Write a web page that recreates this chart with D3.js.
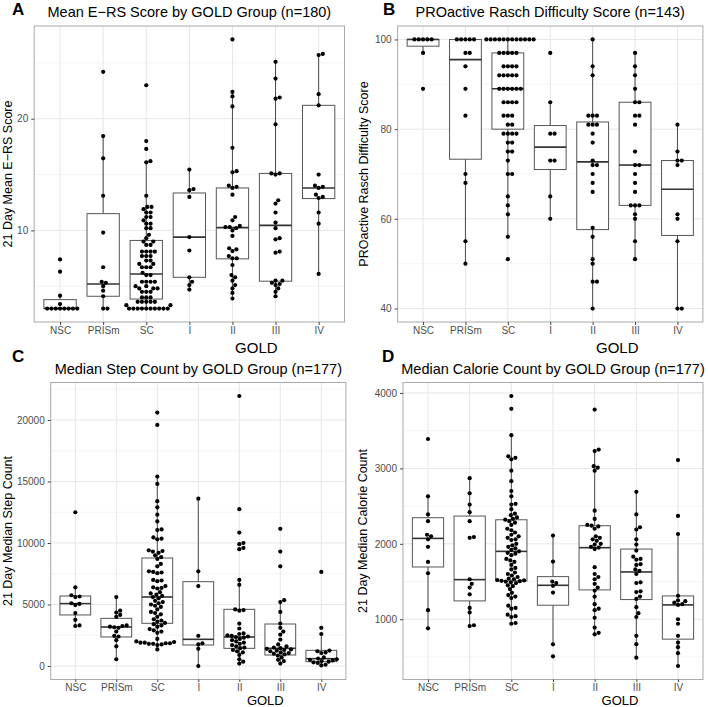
<!DOCTYPE html>
<html><head><meta charset="utf-8">
<script src="https://cdn.jsdelivr.net/npm/d3@7"></script>
<style>
body{margin:0;background:#fff;}
svg{display:block;font-family:"Liberation Sans",Arial,Helvetica,sans-serif;}
</style></head>
<body><svg id="chart" width="708" height="707"></svg>
<script>
const cats = ["NSC","PRISm","SC","I","II","III","IV"];

// Panel A: 21 Day Mean E-RS Score
const ersValues = [
  [3,3,3,3,3,3,3,3,3.4,4.15,6.3,7.4],
  [24.2,18.45,16.45,13.1,9.8,6.7,5.4,5.3,5.0,4.6,4.1,3.0,3.0],
  [23.0,18.0,17.3,16.2,16.1,13.1,12.1,12.1,11.9,11.6,11.6,11.2,11.2,10.9,10.6,10.6,10.2,10.2,9.6,9.3,
   9.0,9.0,8.7,8.7,8.1,8.1,8.1,8.1,7.7,7.7,7.7,7.3,7.3,7.0,7.0,6.7,6.7,6.7,6.2,
   6.0,6.0,5.4,5.4,5.4,5.4,5.0,5.0,4.8,4.8,4.8,4.5,4.5,4.5,4.0,4.0,4.0,
   3.6,3.6,3.6,3.6,3.6,3.3,3.3,3,3,3,3,3,3,3,3,3,3],
  [15.45,13.7,13.6,13.0,9.4,8.2,5.8,5.4,5.1,4.7],
  [27.1,22.4,22.0,21.1,17.4,15.3,15.2,14.0,13.9,13.8,13.2,11.2,10.9,10.4,10.3,10.3,10.2,10.0,9.5,8.4,8.3,8.15,7.7,7.5,7.5,6.9,6.0,5.8,5.5,5.1,4.8,4.4,3.9],
  [25.1,23.6,21.9,21.8,19.5,15.1,15.1,15.0,12.7,12.4,11.6,10.7,10.2,9.3,9.2,8.1,8.0,5.5,5.5,5.3,5.2,5.1,4.8,4.5,4.1],
  [25.8,25.7,22.2,21.2,15.0,14.0,13.9,13.8,13.2,13.0,12.9,11.6,10.6,6.1]
];
// box stats: [lower whisker, Q1, median, Q3, upper whisker]
const ersBox = [
  [3.0,3.0,3.0,3.8,4.15],[3.0,4.1,5.2,11.5,18.45],[3.0,3.85,6.1,9.1,16.2],
  [4.7,5.8,9.4,13.35,15.45],[3.9,7.45,10.25,13.8,22.4],[4.1,5.45,10.45,15.1,25.1],[6.1,12.85,13.8,21.2,25.8]
];
const ersTicks = [10,20];
const ersMinor = [5,15,25];

// Panel B: PROactive Rasch Difficulty Score
const raschValues = [
  [100,100,100,100,100,97,89],
  [100,100,100,100,100,97,97,94,89,83,70,68,55,50],
  [100,100,100,100,100,100,100,100,100,100,100,100,97,97,97,97,97,94,94,94,94,92,92,92,92,92,
   89,89,89,89,89,89,86,86,86,86,83,83,83,81,81,79,79,79,79,77,77,75,75,73,70,70,65,63,61,56,51],
  [97,86,79,79,73,73,65,60],
  [100,94,92,83,83,83,81,81,81,79,77,73,72,72,70,68,66,58,56,51,50,46,46,40],
  [97,94,92,89,86,86,83,83,81,75,72,72,70,68,66,63,63,63,61,60,55,51],
  [81,75,73,73,72,61,60,55,40,40]
];
const raschBox = [
  [97,98.5,100,100,100],[50,73.3,95.5,100,100],[56,80,89,97,100],
  [60,71,76,80.8,86],[40,57.6,72.7,81.6,100],[51,63,72,86,97],[40,56.3,66.6,73,81]
];
const raschTicks = [40,60,80,100];
const raschMinor = [50,70,90];

// Panel C: 21 Day Median Step Count
const stepValues = [
  [12500,6400,5750,5650,5600,5100,5050,4950,4300,3750,3300,3250],
  [5600,4500,4350,4150,4000,3300,3250,3200,3150,3100,2800,2450,2400,2100,1600,550],
  [20600,19600,15400,14800,13400,12900,12300,11750,11100,11050,10450,10350,10300,9400,9350,9300,9200,9000,8850,
   8700,8300,8100,7700,7650,7600,7550,7000,6950,6900,6500,6400,6350,6300,6000,5900,5800,5700,
   5600,5500,5300,5200,5100,5000,4900,4800,4600,4400,4300,4200,4000,3800,3700,3600,3500,
   3400,3300,3200,3000,2900,2800,2700,2200,2000,1950,1900,1900,1850,1850,1800,1800,1750,1700,1350],
  [13600,7700,6500,2450,1850,1750,1400,0],
  [21950,12750,10850,10000,9900,9600,9500,7000,6600,4600,4550,4500,3450,3050,2650,2600,2500,2450,2400,2350,2300,2200,2100,2000,1900,1800,1700,1600,1500,1450,1300,1200,1100,900,550,350,200],
  [11150,9300,8100,5350,5200,4400,3450,3100,2800,2550,2150,1750,1600,1500,1450,1400,1350,1300,1250,1200,1100,1050,1000,950,850,700,500,400,200],
  [7650,3100,2600,1250,1200,1100,1050,700,600,550,500,450,400,350,300,250,100,50]
];
const stepBox = [
  [3250,4150,5070,5690,6420],[550,2360,3170,3875,5600],[1350,3470,5610,8780,15400],
  [0,1707,2168,6856,13600],[200,1436,2358,4607,7000],[200,894,1436,3414,5350],[50,352,596,1274,2600]
];
const stepTicks = [0,5000,10000,15000,20000];
const stepMinor = [2500,7500,12500,17500,22500];

// Panel D: 21 Day Median Calorie Count
const calValues = [
  [3390,2630,2390,2300,2120,2100,2060,1960,1760,1610,1120,880],
  [2870,2670,2520,2420,2300,2090,2080,1530,1470,1420,1330,1150,1090,920,910],
  [3960,3790,3440,3160,3140,3120,2970,2830,2700,2630,2530,2520,2460,2400,2380,2350,2330,2320,
   2300,2280,2250,2200,2180,2150,2120,2100,2080,2060,2050,2000,1980,1960,1940,1920,1900,1880,
   1870,1850,1800,1780,1760,1720,1680,1660,1620,1600,1580,1560,1540,1530,1520,1515,1510,1505,
   1500,1490,1480,1450,1440,1400,1350,1320,1300,1280,1180,1150,1140,1060,1040,1030,950,940],
  [2110,1765,1500,1480,1443,1354,667,508],
  [3780,3250,3230,3030,3010,2970,2440,2330,2250,2240,2230,2200,2100,2080,2060,2040,2000,1990,1960,1950,1930,1690,1600,1560,1530,1470,1420,1380,1300,1200,1140,1120,1020,890,820,800],
  [2690,2390,2220,2190,2060,1990,1910,1830,1800,1790,1730,1720,1660,1640,1600,1490,1480,1370,1360,1300,1270,1160,1080,1030,780,670,490],
  [3110,2370,2130,1310,1250,1240,1220,1200,1190,1000,940,780,690,630,550,380]
];
const calBox = [
  [880,1693,2072,2346,2633],[910,1243,1525,2368,2870],[940,1508,1900,2319,3440],
  [667,1186,1450,1565,2110],[800,1389,1949,2240,3250],[490,1261,1627,1931,2690],[380,736,1190,1309,2130]
];
const calTicks = [1000,2000,3000,4000];
const calMinor = [500,1500,2500,3500];

const panels = [
  {letter:"A", title:"Mean E\u2212RS Score by GOLD Group (n=180)", ylab:"21 Day Mean E\u2212RS Score",
   values:ersValues, box:ersBox, ticks:ersTicks, minor:ersMinor,
   left:34.2, right:344.5, top:26, bottom:322, letterX:12, letterY:15, ylabX:12, titleY:16.5,
   goldY:353, goldSize:15, xTick:3, xPad:2},
  {letter:"B", title:"PROactive Rasch Difficulty Score (n=143)", ylab:"PROactive Rasch Difficulty Score",
   values:raschValues, box:raschBox, ticks:raschTicks, minor:raschMinor,
   left:397.6, right:702.9, top:26, bottom:322, letterX:383, letterY:15, ylabX:368, titleY:16.5,
   goldY:353, goldSize:15, xTick:3, xPad:2},
  {letter:"C", title:"Median Step Count by GOLD Group (n=177)", ylab:"21 Day Median Step Count",
   values:stepValues, box:stepBox, ticks:stepTicks, minor:stepMinor,
   left:50.7, right:345.9, top:382.5, bottom:679.5, letterX:12, letterY:362, ylabX:12, titleY:374,
   goldY:704.8, goldSize:13, xTick:2.5, xPad:1.5},
  {letter:"D", title:"Median Calorie Count by GOLD Group (n=177)", ylab:"21 Day Median Calorie Count",
   values:calValues, box:calBox, ticks:calTicks, minor:calMinor,
   left:403, right:703, top:382.5, bottom:679.5, letterX:382, letterY:362, ylabX:367, titleY:374,
   goldY:704.8, goldSize:13, xTick:2.5, xPad:1.5}
];

const svg = d3.select("#chart");
const R = 2.1, D = 4.3;

function swarm(ys){
  const order = ys.map((y,i)=>i).sort((a,b)=>ys[b]-ys[a]);
  const placed = [], xs = new Array(ys.length).fill(0);
  for (const i of order){
    const y = ys[i];
    const cand = [0];
    for (const p of placed){
      const dy = y - p.y;
      if (Math.abs(dy) < D){
        const dx = Math.sqrt(D*D - dy*dy);
        cand.push(p.x + dx, p.x - dx);
      }
    }
    cand.sort((a,b)=>Math.abs(a)-Math.abs(b) || b-a);
    let chosen = 0;
    for (const c of cand){
      let ok = true;
      for (const p of placed){
        const dx = c - p.x, dy = y - p.y;
        if (dx*dx + dy*dy < D*D - 0.01){ ok = false; break; }
      }
      if (ok){ chosen = c; break; }
    }
    xs[i] = chosen;
    placed.push({x:chosen, y:y});
  }
  return xs;
}

panels.forEach(p => {
  const all = p.values.flat();
  const [mn, mx] = d3.extent(all);
  const pad = (mx - mn) * 0.05;
  const y = d3.scaleLinear().domain([mn - pad, mx + pad]).range([p.bottom, p.top]);
  const x = d3.scalePoint().domain(cats).range([p.left, p.right]).padding(0.6);
  const step = x.step();
  const bw = step * 0.75;
  const g = svg.append("g");

  g.append("rect").attr("x",p.left).attr("y",p.top).attr("width",p.right-p.left).attr("height",p.bottom-p.top)
    .attr("fill","#fff");
  g.selectAll(".minor").data(p.minor.filter(v => y(v) > p.top && y(v) < p.bottom)).enter().append("line")
    .attr("x1",p.left).attr("x2",p.right).attr("y1",d=>y(d)).attr("y2",d=>y(d))
    .attr("stroke","#f3f3f3").attr("stroke-width",0.8);
  g.selectAll(".major").data(p.ticks).enter().append("line")
    .attr("x1",p.left).attr("x2",p.right).attr("y1",d=>y(d)).attr("y2",d=>y(d))
    .attr("stroke","#e6e6e6").attr("stroke-width",1);
  g.selectAll(".vgrid").data(cats).enter().append("line")
    .attr("x1",d=>x(d)).attr("x2",d=>x(d)).attr("y1",p.top).attr("y2",p.bottom)
    .attr("stroke","#e6e6e6").attr("stroke-width",1);

  cats.forEach((c,i) => {
    const [lo,q1,med,q3,hi] = p.box[i];
    const cx = x(c);
    const bg = g.append("g");
    bg.append("line").attr("x1",cx).attr("x2",cx).attr("y1",y(q3)).attr("y2",y(hi)).attr("stroke","#4a4a4a").attr("stroke-width",1);
    bg.append("line").attr("x1",cx).attr("x2",cx).attr("y1",y(q1)).attr("y2",y(lo)).attr("stroke","#4a4a4a").attr("stroke-width",1);
    bg.append("rect").attr("x",cx-bw/2).attr("y",y(q3)).attr("width",bw).attr("height",Math.max(0.01,y(q1)-y(q3)))
      .attr("fill","#fff").attr("stroke","#555").attr("stroke-width",1);
    bg.append("line").attr("x1",cx-bw/2).attr("x2",cx+bw/2).attr("y1",y(med)).attr("y2",y(med))
      .attr("stroke","#333").attr("stroke-width",1.6);
  });

  cats.forEach((c,i) => {
    const vals = p.values[i];
    const ys = vals.map(v => y(v));
    const offs = swarm(ys);
    g.selectAll(null).data(vals).enter().append("circle")
      .attr("cx",(d,j)=>x(c)+offs[j]).attr("cy",d=>y(d)).attr("r",R).attr("fill","#000");
  });

  g.append("rect").attr("x",p.left).attr("y",p.top).attr("width",p.right-p.left).attr("height",p.bottom-p.top)
    .attr("fill","none").attr("stroke","#aaa").attr("stroke-width",1);

  const ya = g.append("g").attr("transform",`translate(${p.left},0)`)
    .call(d3.axisLeft(y).tickValues(p.ticks).tickSize(3).tickPadding(3).tickFormat(d3.format("d")));
  const xa = g.append("g").attr("transform",`translate(0,${p.bottom})`)
    .call(d3.axisBottom(x).tickSize(p.xTick).tickPadding(p.xPad));
  [ya,xa].forEach(a => {
    a.select(".domain").remove();
    a.selectAll(".tick line").attr("stroke","#444");
    a.selectAll(".tick text").attr("fill","#4d4d4d").style("font-size","10px")
      .style("font-family","'Liberation Sans',Arial,sans-serif");
  });

  const cxPlot = (p.left + p.right)/2;
  svg.append("text").attr("x",cxPlot).attr("y",p.titleY).attr("text-anchor","middle")
    .style("font-size","14.5px").attr("fill","#000").text(p.title);
  svg.append("text").attr("x",p.letterX).attr("y",p.letterY)
    .style("font-size","17px").style("font-weight","bold").attr("fill","#000").text(p.letter);
  svg.append("text").attr("x",cxPlot+67).attr("y",p.goldY).attr("text-anchor","middle")
    .style("font-size",p.goldSize+"px").attr("fill","#000").text("GOLD");
  svg.append("text").attr("transform",`translate(${p.ylabX},${(p.top+p.bottom)/2}) rotate(-90)`)
    .attr("text-anchor","middle").style("font-size","12.5px").attr("fill","#000").text(p.ylab);
});
</script>
</body></html>
